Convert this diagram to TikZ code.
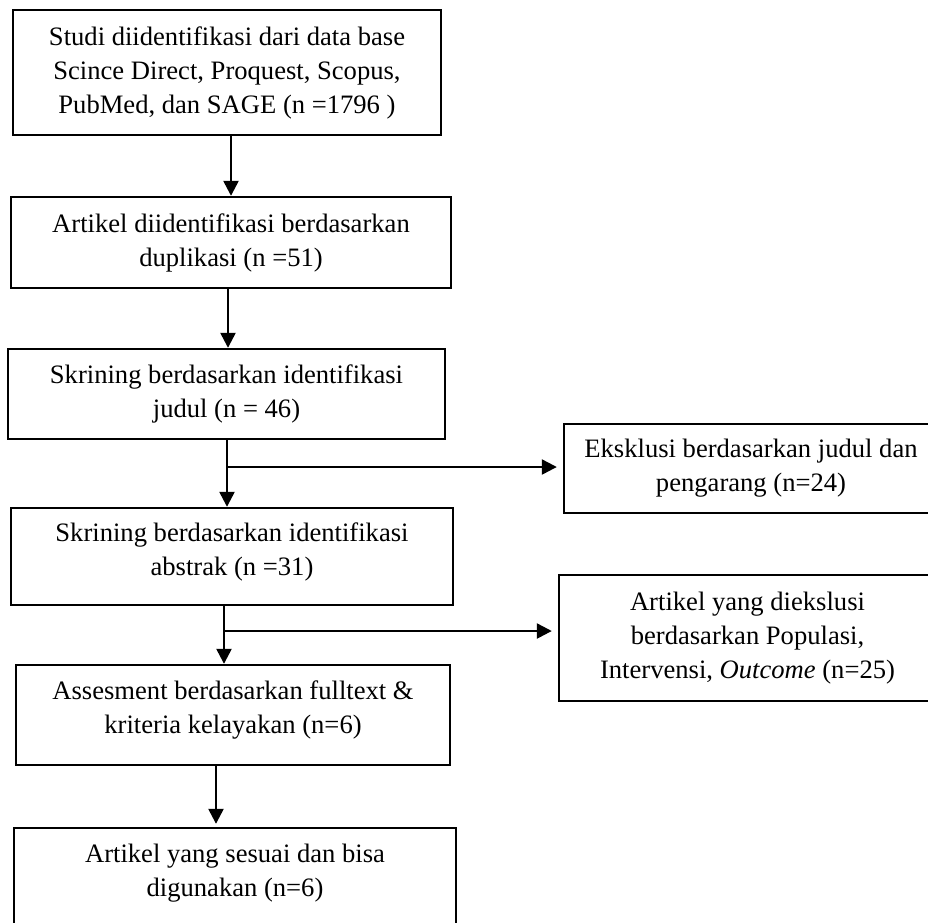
\documentclass[tikz,border=0pt]{standalone}
\usepackage{fontspec}
\setmainfont{Liberation Serif}
\usetikzlibrary{arrows.meta,calc}
\begin{document}
\begin{tikzpicture}[x=1pt,y=-1pt,
  box/.style={draw, line width=2.4pt, inner sep=0pt, align=center, font=\fontsize{26.6}{34}\selectfont},
  txt/.style={inner sep=0pt, align=center, font=\fontsize{26.6}{34}\selectfont},
  arr/.style={line width=2.4pt, -{Triangle[width=15pt,length=15pt]}}]
\useasboundingbox (0,0) rectangle (928,922);
\clip (0,0) rectangle (928,922);
\node[box, minimum width=428pt, minimum height=125pt] (B1) at (227,72.5)
  {Studi diidentifikasi dari data base\\Scince Direct, Proquest, Scopus,\\PubMed, dan SAGE (n =1796 )};
\node[box, minimum width=440pt, minimum height=91pt] (B2) at (231,242.5)
  {Artikel diidentifikasi berdasarkan\\duplikasi (n =51)};
\node[box, minimum width=437pt, minimum height=90pt] (B3) at (226.5,394)
  {Skrining berdasarkan identifikasi\\judul (n = 46)};
\node[box, minimum width=442pt, minimum height=97pt] (B4) at (232,556.5) {};
\node[txt] (T4) at (232,552) {Skrining berdasarkan identifikasi\\abstrak (n =31)};
\node[box, minimum width=434pt, minimum height=100pt] (B5) at (233,715) {};
\node[txt] (T5) at (233,710) {Assesment berdasarkan fulltext \&\\kriteria kelayakan (n=6)};
\node[box, minimum width=442pt, minimum height=112pt] (B6) at (235,884) {};
\node[txt] (T6) at (235,873) {Artikel yang sesuai dan bisa\\digunakan (n=6)};
\node[box, minimum width=374pt, minimum height=89pt] (EA) at (751,468.5)
  {Eksklusi berdasarkan judul dan\\pengarang (n=24)};
\node[box, minimum width=377pt, minimum height=126pt] (EB) at (747.5,638)
  {Artikel yang diekslusi\\berdasarkan Populasi,\\Intervensi, \textit{Outcome} (n=25)};
\draw[arr] ([xshift=4pt]B1.south) -- ([xshift=4pt]B1.south |- B2.north);
\draw[arr] ([xshift=-3pt]B2.south) -- ([xshift=-3pt]B2.south |- B3.north);
\draw[arr] ([xshift=0.5pt]B3.south) -- ([xshift=0.5pt]B3.south |- B4.north);
\coordinate (J1) at ([xshift=0.5pt]B3.south |- 0,467);
\draw[arr, shorten >=6pt] (J1) -- (J1 -| EA.west);
\draw[arr] ([xshift=-8pt]B4.south) -- ([xshift=-8pt]B4.south |- B5.north);
\coordinate (J2) at ([xshift=-8pt]B4.south |- 0,631);
\draw[arr, shorten >=6pt] (J2) -- (J2 -| EB.west);
\draw[arr, shorten >=3pt] ([xshift=-17pt]B5.south) -- ([xshift=-17pt]B5.south |- B6.north);
\end{tikzpicture}
\end{document}
